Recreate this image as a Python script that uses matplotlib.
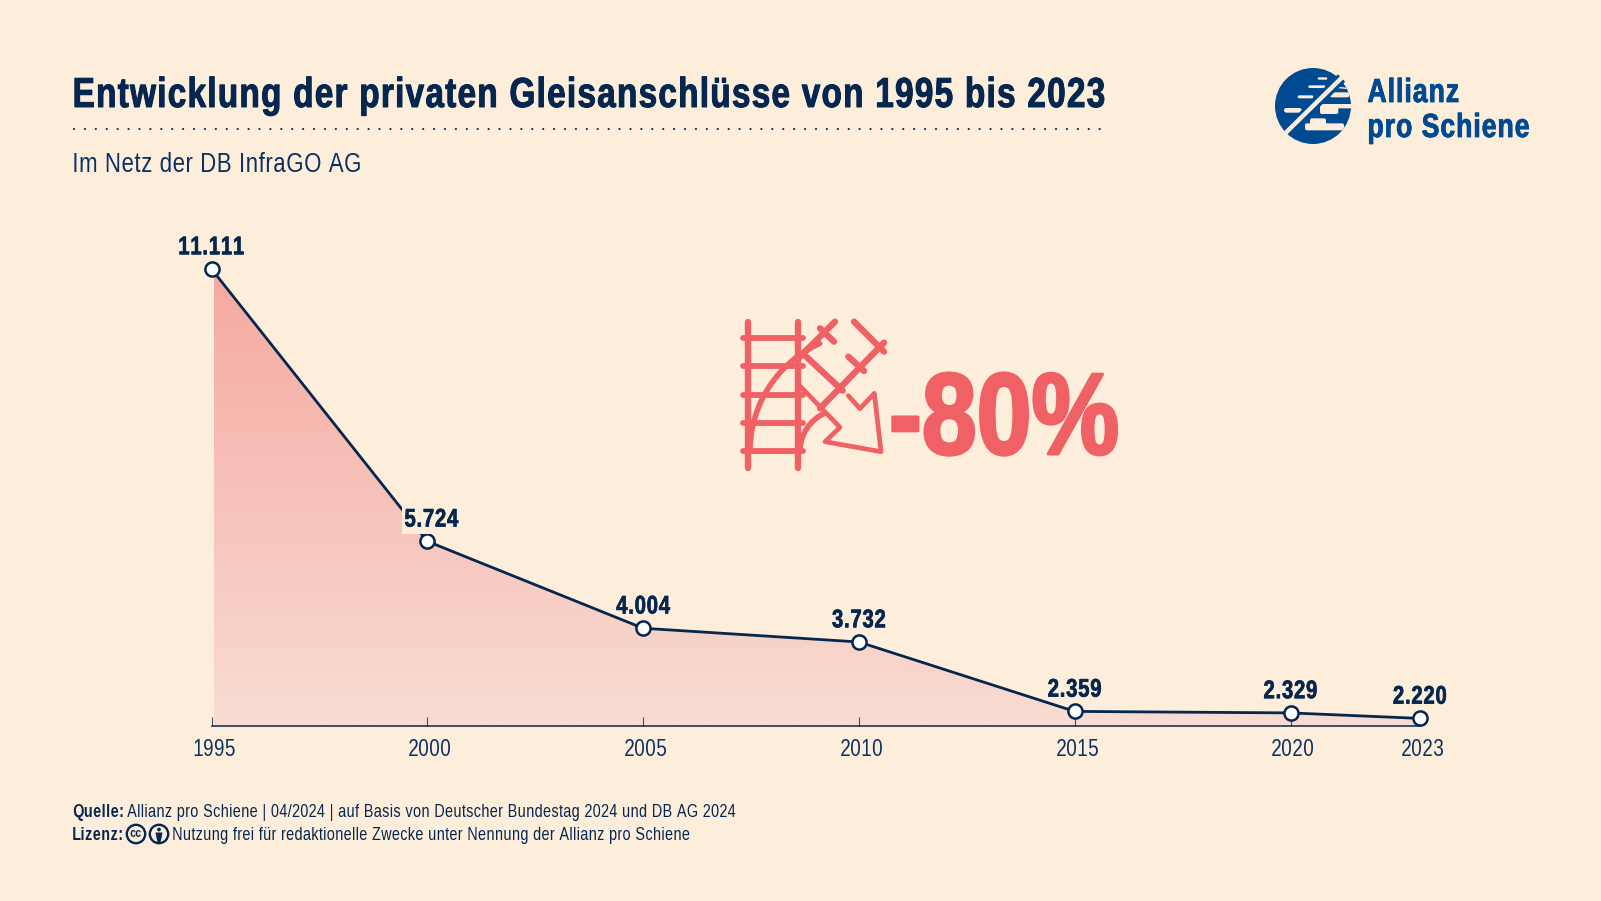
import numpy as np
import matplotlib
matplotlib.use("Agg")
import matplotlib.pyplot as plt
from matplotlib.patches import Circle, Polygon, FancyBboxPatch
from matplotlib.font_manager import fontManager, findfont, FontProperties
from matplotlib.transforms import ScaledTranslation
import matplotlib.patheffects as pe
from fontTools.ttLib import TTFont
from fontTools.pens.ttGlyphPen import TTGlyphPen
from fontTools.pens.transformPen import TransformPen
from fontTools.pens.recordingPen import DecomposingRecordingPen


def condensed(weight, sx, track, family):
    """Derive a condensed, tracked face from Liberation Sans and register it."""
    path = findfont(FontProperties(family="Liberation Sans", weight=weight))
    font = TTFont(path)
    gs = font.getGlyphSet()
    glyf = font["glyf"]
    hmtx = font["hmtx"]
    upm = font["head"].unitsPerEm
    extra = track * upm
    new, adv = {}, {}
    for name in font.getGlyphOrder():
        rec = DecomposingRecordingPen(gs)
        gs[name].draw(rec)
        pen = TTGlyphPen(None)
        rec.replay(TransformPen(pen, (sx, 0, 0, 1, extra / 2, 0)))
        new[name] = pen.glyph()
        adv[name] = int(round(hmtx[name][0] * sx + extra))
    for name, g in new.items():
        glyf[name] = g
        g.recalcBounds(glyf)
        hmtx[name] = (adv[name], getattr(g, "xMin", 0) if g.numberOfContours else 0)
    for tag in ("kern", "GPOS", "GSUB", "GDEF", "fpgm", "prep", "cvt ", "hdmx", "VDMX", "LTSH"):
        if tag in font:
            del font[tag]
    for rec in font["name"].names:
        if rec.nameID in (1, 4, 16):
            rec.string = family
        elif rec.nameID == 6:
            rec.string = family.replace(" ", "")
    fname = family.replace(" ", "") + ".ttf"
    font.save(fname)
    fontManager.addfont(fname)
    return family


REG = condensed("normal", 0.80, 0.022, "Cond Reg")
BOLD = condensed("bold", 0.795, 0.030, "Cond Bold")
HEAVY = condensed("bold", 0.85, 0.0, "Cond Heavy")

years = [1995, 2000, 2005, 2010, 2015, 2020, 2023]
values = [11111, 5724, 4004, 3732, 2359, 2329, 2220]
labels = ["11.111", "5.724", "4.004", "3.732", "2.359", "2.329", "2.220"]
axis_floor = 2070
axis_top = 11111

BG = "#FDEEDC"
NAVY = "#04264F"
RED = "#F06166"
BLUE = "#004A91"
W, H = 1601, 901


def px(size):
    return size * 0.72


fig = plt.figure(figsize=(W / 100, H / 100), dpi=100, facecolor=BG)
ov = fig.add_axes([0, 0, 1, 1], zorder=5)
ov.set_xlim(0, W)
ov.set_ylim(H, 0)
ov.axis("off")
ov.patch.set_alpha(0)

L, R, T, B = 211.5, 1420, 269, 726
ax = fig.add_axes([L / W, 1 - B / H, (R - L) / W, (B - T) / H], zorder=3)
ax.patch.set_alpha(0)
ax.set_xlim(1995, 2023)
ax.set_ylim(axis_floor, axis_top)
for s in ("top", "left", "right"):
    ax.spines[s].set_visible(False)
ax.spines["bottom"].set_color(NAVY)
ax.spines["bottom"].set_linewidth(1.1)
ax.set_yticks([])
ax.set_xticks(years)
ax.set_xticklabels([str(y) for y in years], fontfamily=REG, fontsize=px(23.5), color="#0C3060")
ax.tick_params(axis="x", direction="in", length=6.5, width=0.8, color="#33507A", pad=8.8)
shift = ScaledTranslation(2.5 / 100, 0, fig.dpi_scale_trans)
for lbl in ax.get_xticklabels():
    lbl.set_transform(lbl.get_transform() + shift)

grad = np.linspace(0, 1, 256).reshape(-1, 1)
c_top = np.array([0xF5, 0xA9, 0xA0]) / 255
c_bot = np.array([0xF8, 0xDC, 0xD2]) / 255
img = c_top + (c_bot - c_top) * grad[..., None]
im = ax.imshow(img, extent=[1995.06, 2023, axis_floor, axis_top], aspect="auto", zorder=1, origin="upper")
clip = Polygon(list(zip(years, values)) + [(2023, axis_floor), (1995.06, axis_floor)],
               closed=True, transform=ax.transData, fc="none", ec="none")
ax.add_patch(clip)
im.set_clip_path(clip)
ax.set_xlim(1995, 2023)
ax.set_ylim(axis_floor, axis_top)

ax.plot(years, values, color=NAVY, lw=2.0, zorder=3, clip_on=False, solid_joinstyle="round")
ax.plot(years, values, ls="none", marker="o", ms=10.2, mfc="white", mec=NAVY, mew=1.8,
        zorder=4, clip_on=False)
bold_pe = [pe.withStroke(linewidth=0.45, foreground=NAVY)]
for x, v, t in zip(years, values, labels):
    kw = {}
    dx = 0
    if t == "5.724":
        kw["bbox"] = dict(facecolor=BG, edgecolor="none", pad=1.5)
        dx = 3
    ax.annotate(t, (x, v), xytext=(dx, 10.6), textcoords="offset points", ha="center", va="baseline",
                fontfamily=BOLD, fontsize=px(25.5), color=NAVY, zorder=5,
                annotation_clip=False, path_effects=bold_pe, **kw)

ov.text(72, 107, "Entwicklung der privaten Gleisanschlüsse von 1995 bis 2023", fontfamily=BOLD,
        fontsize=px(41.9), color=NAVY, va="baseline", path_effects=[pe.withStroke(linewidth=0.7, foreground=NAVY)])
ov.plot([74, 1104], [129, 129], ls=(0, (0.01, 4.9)), color="#0C3060", lw=1.6, dash_capstyle="round")
ov.text(72, 172, "Im Netz der DB InfraGO AG", fontfamily=REG, fontsize=px(27.7), color="#0C3060", va="baseline")

fs = px(18)
ov.text(72, 817, "Quelle:", fontfamily=BOLD, fontsize=fs, color=NAVY, va="baseline")
ov.text(127, 817, "Allianz pro Schiene | 04/2024 | auf Basis von Deutscher Bundestag 2024 und DB AG 2024",
        fontfamily=REG, fontsize=fs, color=NAVY, va="baseline")
ov.text(72, 840, "Lizenz:", fontfamily=BOLD, fontsize=fs, color=NAVY, va="baseline")
ov.text(172.5, 840, "Nutzung frei für redaktionelle Zwecke unter Nennung der Allianz pro Schiene",
        fontfamily=REG, fontsize=fs, color=NAVY, va="baseline")
for cx in (136, 159):
    ov.add_patch(Circle((cx, 834), 9.2, fc=BG, ec=NAVY, lw=1.7))
ov.text(136, 834.3, "cc", fontfamily=BOLD, fontsize=px(13), color=NAVY, ha="center", va="center")
ov.add_patch(Circle((159, 829.5), 1.9, fc=NAVY, ec="none"))
ov.add_patch(Polygon([(155.5, 832.5), (162.5, 832.5), (161.5, 838), (160.5, 842), (157.5, 842), (156.5, 838)],
                     fc=NAVY, ec="none"))


def ic(*pts):
    return [720 + p[0] / 3 for p in pts], [300 + p[1] / 3 for p in pts]


def stroke(*pts, lw=4.6):
    xs, ys = ic(*pts)
    ov.plot(xs, ys, color=RED, lw=lw, solid_capstyle="round", solid_joinstyle="round")


stroke((84, 65), (84, 505))
stroke((233, 65), (233, 505))
for y in (114, 199, 284, 369, 454):
    stroke((68, y), (250, y), lw=4.2)
stroke((238, 172), (345, 65))
stroke((300, 85), (342, 125))
stroke((248, 160), (368, 272))
stroke((300, 325), (492, 128))
stroke((385, 170), (432, 213))
stroke((402, 65), (492, 155))
stroke((363, 148), (363.5, 148), lw=5)
stroke((240, 258), (360, 382), (315, 425), (483, 455), (463, 280), (420, 326), (385, 287), lw=3.4)
t = np.linspace(0, np.pi / 2 * 0.73, 40)
r = 355
stroke(*[(90 + r - r * np.cos(a), 454 - r * np.sin(a)) for a in t], lw=4)
t = np.linspace(0, np.pi / 2 * 0.72, 20)
r = 125
stroke(*[(240 + r - r * np.cos(a), 454 - r * np.sin(a)) for a in t], lw=4)

ov.text(889, 454, "-80%", fontfamily=HEAVY, fontsize=px(116), color=RED, va="baseline",
        path_effects=[pe.withStroke(linewidth=2.2, foreground=RED)])

# logo: crop coordinates of the 88x86 zoom -> pixels
disc = Circle((1313, 106), 38, fc=BLUE, ec="none")
ov.add_patch(disc)


def blob(cx0, cy0, cx1, cy1, rad=2.0):
    x0, y0 = 1270 + cx0 / 3, 64 + cy0 / 3
    x1, y1 = 1270 + cx1 / 3, 64 + cy1 / 3
    p = FancyBboxPatch((x0, y0), x1 - x0, y1 - y0, boxstyle="round,pad=0,rounding_size=%g" % rad,
                       fc=BG, ec="none")
    ov.add_patch(p)
    p.set_clip_path(disc)


blob(143, 40, 172, 47, 1.2)
blob(115, 64, 166, 72, 1.3)
blob(83, 94, 130, 103, 1.5)
blob(42, 132, 95, 146, 2.3)
blob(180, 85, 238, 100)
blob(150, 120, 250, 133)
blob(150, 125, 205, 150)
blob(105, 178, 222, 199)
blob(120, 163, 168, 185)
line = ov.plot([1338.5, 1348, 1349.5], [87.5, 88.5, 94], color=BG, lw=1.0)[0]
line.set_clip_path(disc)
ov.plot([1287, 1341.5], [132, 78], color=BLUE, lw=7.5, solid_capstyle="butt")
ov.plot([1285, 1342.5], [133.5, 77], color=BG, lw=3.2, solid_capstyle="butt")
logo_pe = [pe.withStroke(linewidth=0.6, foreground=BLUE)]
ov.text(1367, 102, "Allianz", fontfamily=BOLD, fontsize=px(33.4), color=BLUE, va="baseline", path_effects=logo_pe)
ov.text(1367, 137, "pro Schiene", fontfamily=BOLD, fontsize=px(33.4), color=BLUE, va="baseline", path_effects=logo_pe)

fig.savefig("out.png", dpi=100, facecolor=BG)
